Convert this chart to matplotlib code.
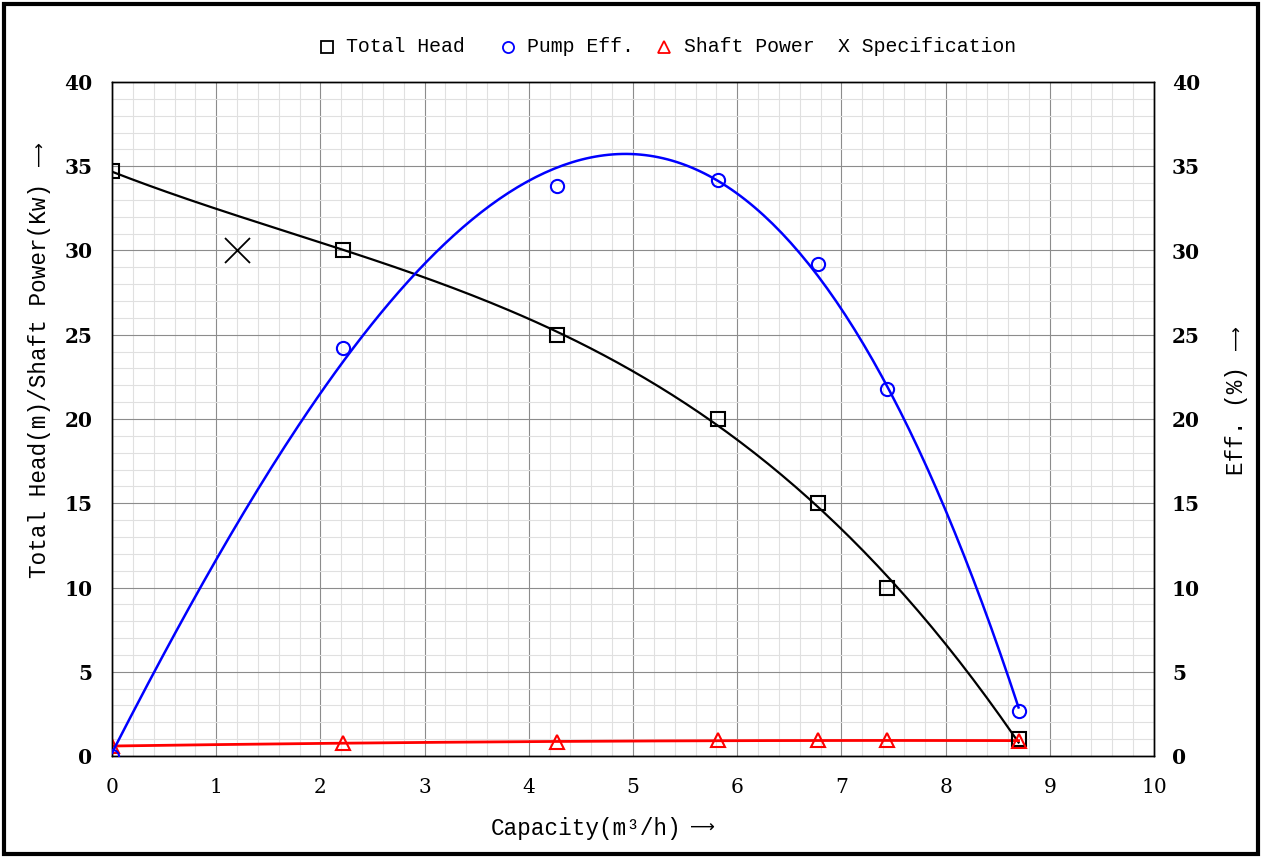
import matplotlib
matplotlib.use("Agg")
import matplotlib.pyplot as plt
import numpy as np
from matplotlib.lines import Line2D
from matplotlib.patches import Rectangle
from matplotlib.ticker import MultipleLocator

# data
capacity = np.array([0.0, 2.22, 4.27, 5.82, 6.78, 7.44, 8.70])  # m3/h
total_head = np.array([34.7, 30.0, 25.0, 20.0, 15.0, 10.0, 1.0])  # m
pump_eff = np.array([0.0, 24.2, 33.8, 34.2, 29.2, 21.8, 2.7])  # %
shaft_power = np.array([0.6, 0.75, 0.85, 0.92, 0.93, 0.93, 0.9])  # kW
spec_q, spec_h = 1.2, 30.0

label_font = ["Liberation Mono", "DejaVu Sans"]
tick_font = "DejaVu Serif"
title_size = 16.3
leg_size = 14.3

fig = plt.figure(figsize=(12.64, 8.57), dpi=100)
ax = fig.add_axes([112 / 1264, 1 - 756 / 857, (1154 - 112) / 1264, (756 - 82) / 857])
ax2 = ax.twinx()

# trend lines (polynomial fits, like the spreadsheet)
qq = np.linspace(capacity.min(), capacity.max(), 200)
head_fit = np.poly1d(np.polyfit(capacity, total_head, 3))
eff_fit = np.poly1d(np.polyfit(capacity, pump_eff, 3))
pow_fit = np.poly1d(np.polyfit(capacity, shaft_power, 2))

ax.plot(qq, head_fit(qq), color="black", lw=1.6, zorder=3)
ax.plot(capacity, total_head, "s", ms=9.5, mfc="none", mec="black", mew=1.5, zorder=4)
ax.plot(qq, pow_fit(qq), color="red", lw=2, zorder=3)
ax.plot(capacity, shaft_power, "^", ms=10.5, mfc="none", mec="red", mew=1.5, zorder=4)
ax.plot(spec_q, spec_h, "x", ms=18, mec="black", mew=1.3, zorder=4)

ax2.plot(qq, eff_fit(qq), color="blue", lw=1.8, zorder=3)
ax2.plot(capacity, pump_eff, "o", ms=9.5, mfc="none", mec="blue", mew=1.5, zorder=4)

for a in (ax, ax2):
    a.set_xlim(0, 10)
    a.set_ylim(0, 40)
    a.yaxis.set_major_locator(MultipleLocator(5))
    for s in a.spines.values():
        s.set_color("black")
        s.set_linewidth(1)
ax.xaxis.set_major_locator(MultipleLocator(1))
ax.xaxis.set_minor_locator(MultipleLocator(0.2))
ax.yaxis.set_minor_locator(MultipleLocator(1))
ax.grid(which="major", color="#8c8c8c", lw=0.8)
ax.grid(which="minor", color="#e0e0e0", lw=0.8)
ax.set_axisbelow(True)

ax.tick_params(which="both", length=0)
ax.tick_params(axis="y", pad=14)
ax.tick_params(axis="x", pad=16)
ax2.tick_params(which="both", length=0, pad=13)
for lab in ax.get_yticklabels() + ax2.get_yticklabels():
    lab.set_fontfamily(tick_font)
    lab.set_fontweight("bold")
    lab.set_fontsize(14.5)
for lab in ax.get_xticklabels():
    lab.set_fontfamily(tick_font)
    lab.set_fontsize(14.5)

# axis titles, arrows drawn as separate texts
arrow = "⟶"
arrow_size = 12.5
fig.text(40 / 1264, 1 - 380 / 857, "Total Head(m)/Shaft Power(Kw)", rotation=90,
         ha="center", va="center", fontsize=title_size, family=label_font)
fig.text(40 / 1264, 1 - 154 / 857, arrow, rotation=90, ha="center", va="center",
         fontsize=arrow_size, family="DejaVu Sans")
fig.text(1237 / 1264, 1 - 420 / 857, "Eff. (%)", rotation=90,
         ha="center", va="center", fontsize=title_size, family=label_font)
fig.text(1237 / 1264, 1 - 338 / 857, arrow, rotation=90, ha="center", va="center",
         fontsize=arrow_size, family="DejaVu Sans")
fig.text(586 / 1264, 1 - 828 / 857, "Capacity(m³/h)",
         ha="center", va="center", fontsize=title_size, family=label_font)
fig.text(702 / 1264, 1 - 828 / 857, arrow, ha="center", va="center",
         fontsize=arrow_size, family="DejaVu Sans")

# legend row along the top
ly = 1 - 47 / 857
legend_items = [
    (327, dict(marker="s", mec="black", ms=8), 346, "Total Head"),
    (508, dict(marker="o", mec="blue", ms=8), 527, "Pump Eff."),
    (664, dict(marker="^", mec="red", ms=9), 684, "Shaft Power"),
]
for mx, mk, tx, txt in legend_items:
    fig.add_artist(Line2D([mx / 1264], [ly], transform=fig.transFigure, ls="none",
                          mfc="none", mew=1.3, **mk))
    fig.text(tx / 1264, ly, txt, ha="left", va="center", fontsize=leg_size, family=label_font)
fig.text(838 / 1264, ly, "X Specification", ha="left", va="center", fontsize=leg_size,
         family=label_font)

# outer frame
fig.add_artist(Rectangle((4 / 1264, 3 / 857), 1254 / 1264, 850 / 857,
                         transform=fig.transFigure, fill=False, ec="black", lw=3))

fig.savefig("out.png", dpi=100)
